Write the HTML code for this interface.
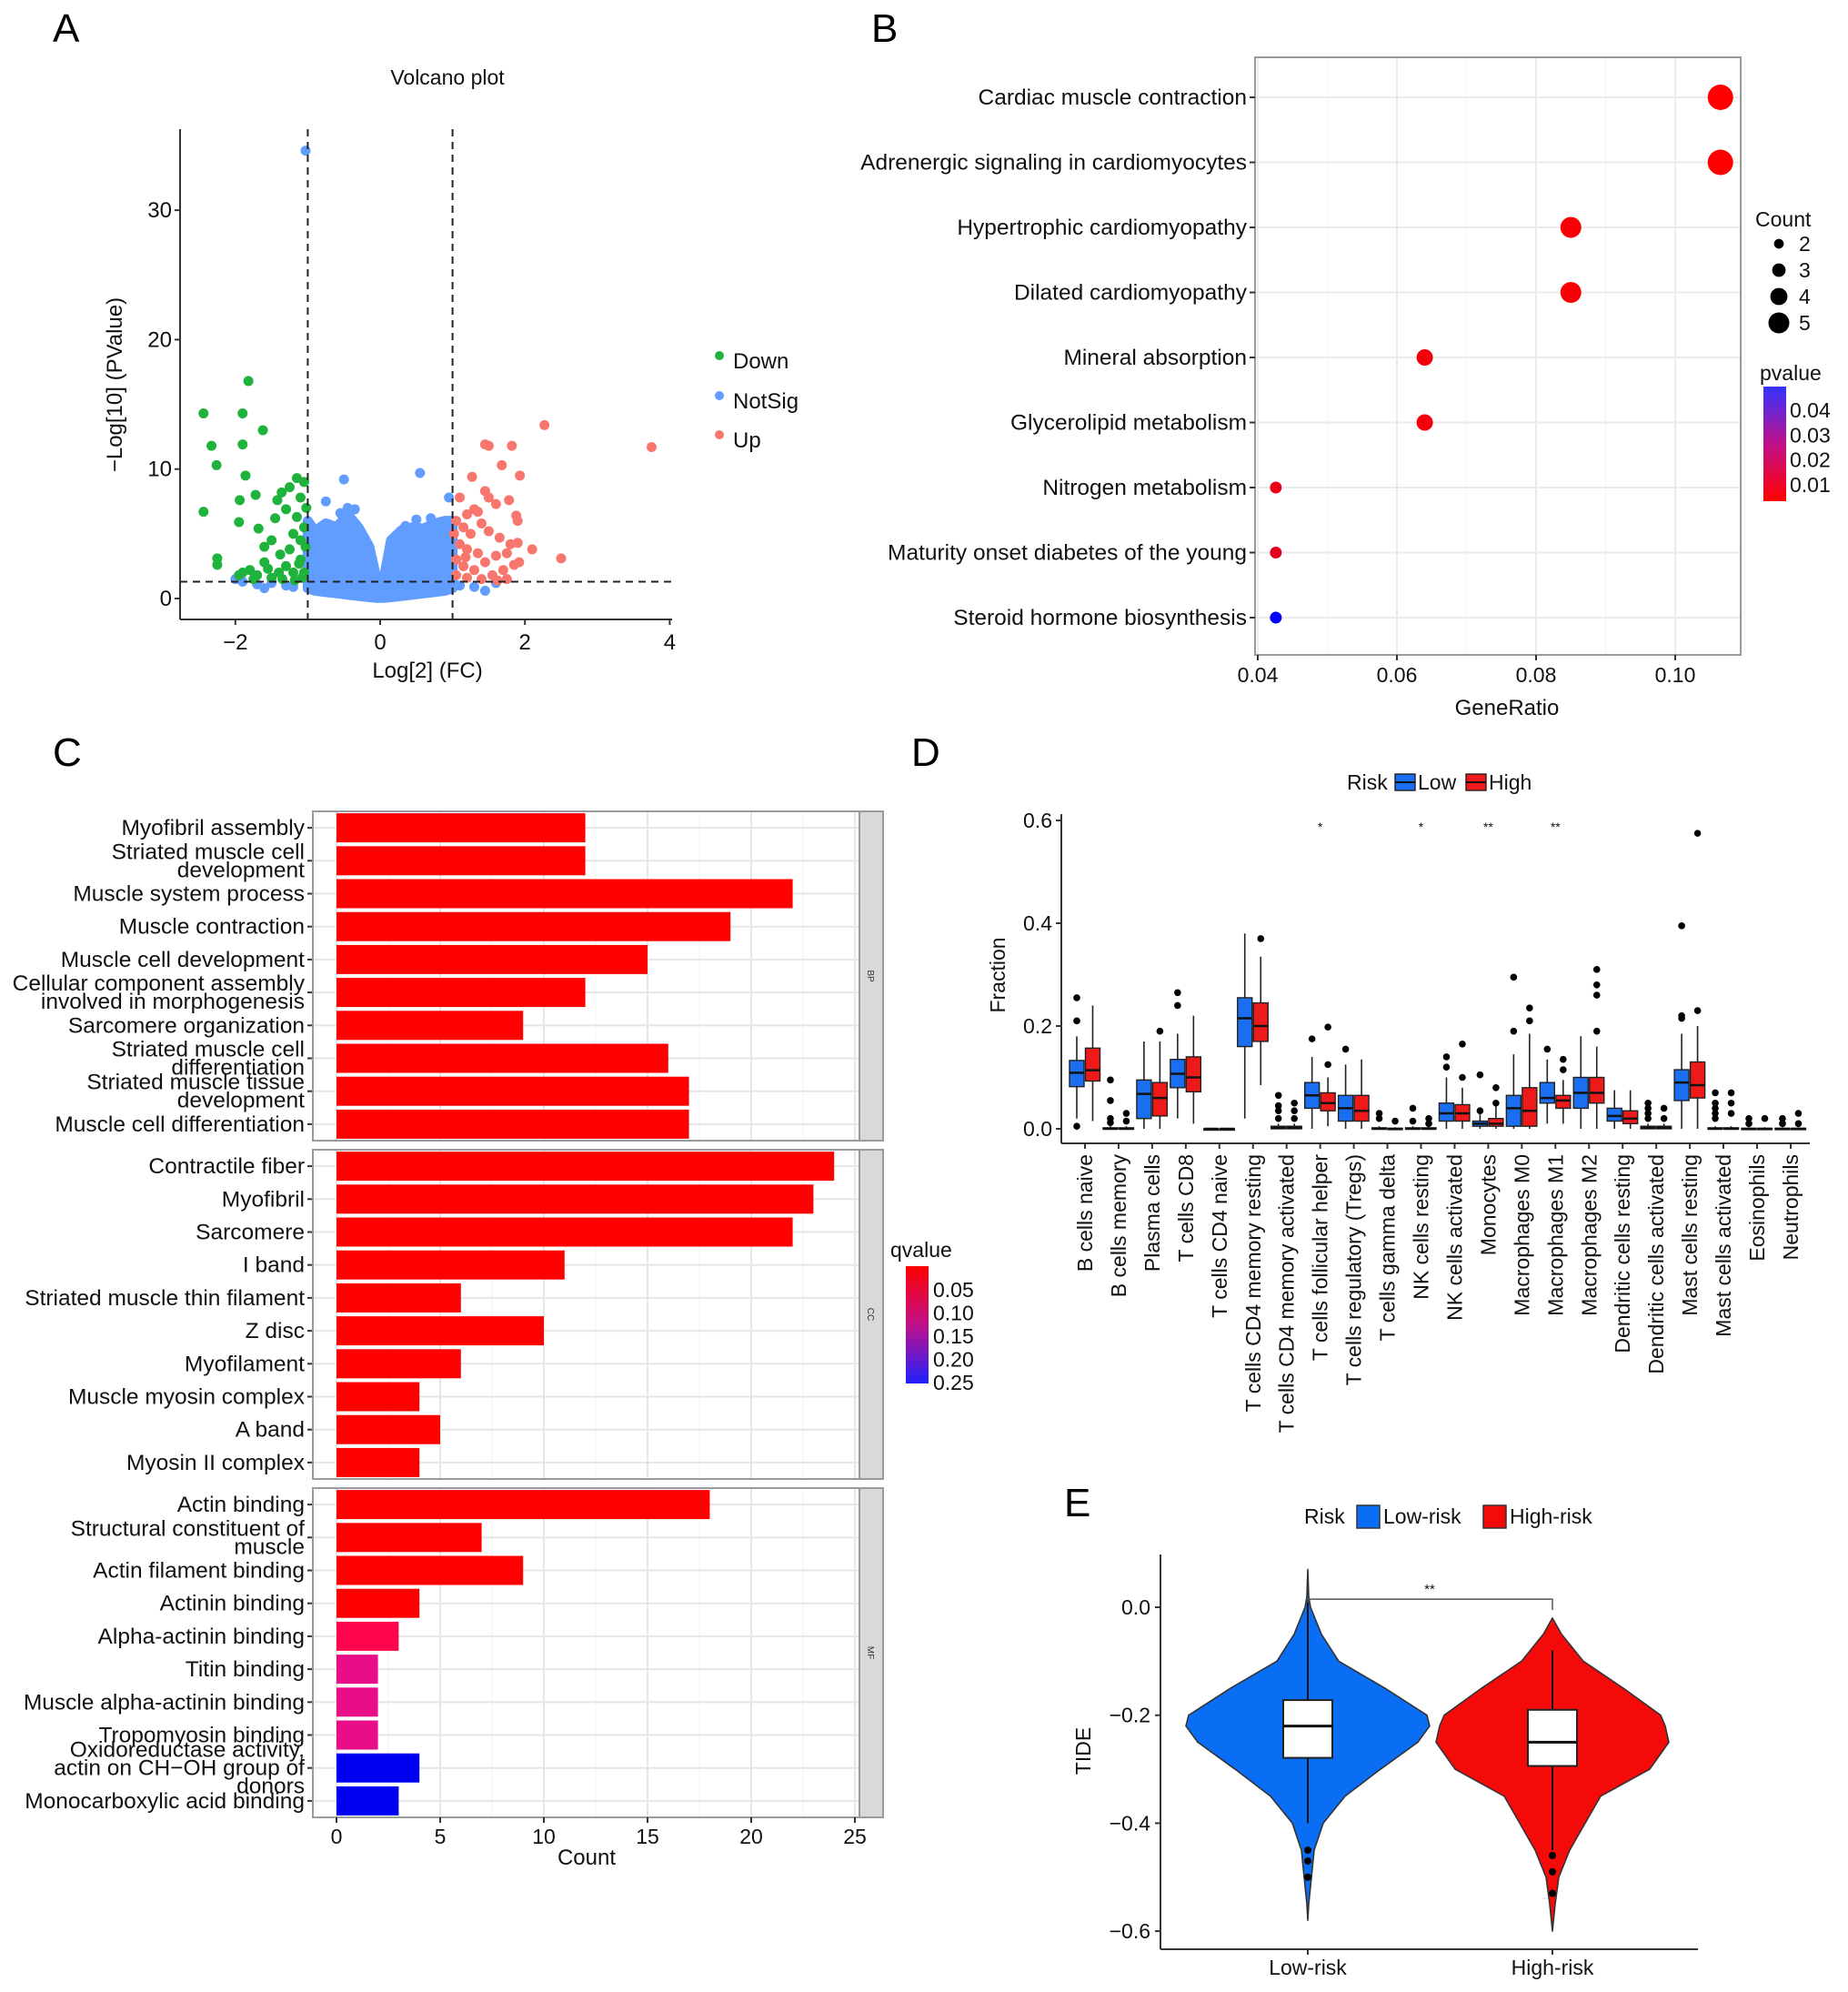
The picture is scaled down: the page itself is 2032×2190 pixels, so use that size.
<!DOCTYPE html>
<html><head><meta charset="utf-8"><style>
html,body{margin:0;padding:0;background:#fff}
svg{display:block;font-family:"Liberation Sans",sans-serif}
</style></head><body>
<svg id="fig" xmlns="http://www.w3.org/2000/svg" width="2032" height="2190" viewBox="0 0 2032 2190">
<text x="58" y="46" font-size="44">A</text>
<text x="958" y="46" font-size="44">B</text>
<text x="58" y="842" font-size="44">C</text>
<text x="1002" y="842" font-size="44">D</text>
<text x="1170" y="1667" font-size="44">E</text>
</svg>
<script>
var NS="http://www.w3.org/2000/svg";
var svg=document.getElementById('fig');
function mk(tag,a,parent){var e=document.createElementNS(NS,tag);for(var k in a)e.setAttribute(k,a[k]);(parent||svg).appendChild(e);return e;}
function tx(x,y,s,size,anchor,extra){var a={x:x,y:y,'font-size':size,'text-anchor':anchor||'start',fill:'#111'};if(extra)for(var k in extra)a[k]=extra[k];var e=mk('text',a);e.textContent=s;return e;}

/* ---------------- A: Volcano data ---------------- */
var downX=[-2.44,-1.82,-1.9,-2.33,-1.9,-1.62,-2.26,-1.86,-2.44,-1.94,-1.95,-1.68,-1.72,-1.42,-1.36,-1.25,-1.15,-1.05,-1.1,-1.3,-1.45,-2.25,-2.25,-1.9,-1.8,-1.6,-1.5,-1.38,-1.2,-1.1,-1.05,-1.6,-1.7,-1.3,-1.2,-1.1,-1.05,-1.4,-1.5,-1.15,-1.02,-1.25,-1.08,-1.95,-1.75,-1.35,-1.18,-1.55,-1.03,-1.12];
var downY=[14.3,16.8,14.3,11.8,11.9,13,10.3,9.5,6.7,7.6,5.9,5.4,8,7.6,8.2,8.6,9.3,9,7.8,6.9,6.2,3.1,2.6,2,2.2,4,4.5,3.4,5,4.5,5.5,2.8,1.8,2.5,2,3,2,2,1.6,6.3,7,3.8,1.6,1.8,1.5,1.5,1.4,2.3,4,2.7];
var upX=[2.27,3.75,1.5,1.82,1.45,1.68,1.93,1.27,1.1,1.45,1.5,1.6,1.78,1.3,1.2,1.35,1.05,1.15,1.4,1.25,1.88,1.9,1.5,1.65,1.8,1.9,2.1,2.5,1.75,1.6,1.45,1.35,1.2,1.1,1.05,1.15,1.3,1.55,1.7,1.85,1.92,1.05,1.2,1.4,1.62,1.75,1.02,1.18];
var upY=[13.4,11.7,11.8,11.8,11.9,10.3,9.5,9.4,7.8,8.3,7.8,7.3,7.6,6.9,6.5,6.7,6,5.5,5.8,5,6.4,6,5.2,4.7,4.2,4.3,3.8,3.1,3.5,3.3,2.8,3.5,3.8,4.2,3,2.5,2.2,1.8,2.2,2.6,2.8,1.8,1.6,1.5,1.4,1.5,5,3.2];
var nsX=[-1.03,-0.75,-0.5,0.55,-0.45,-0.4,0.95,-1.5,-1.7,-1.3,1.3,1.45,1.6,-1.9,-2.0,-1.6,-1.2,1.1,-0.55,-0.35,0.35,0.5,0.7];
var nsY=[34.6,7.5,9.2,9.7,7,6.8,7.8,1.2,1.1,1.0,0.9,0.6,1.2,1.3,1.5,0.8,0.9,1.0,6.6,6.9,5.6,6.1,6.2];
var cloudX=[-1,-0.9,-0.75,-0.6,-0.45,-0.3,-0.15,-0.05,0,0.05,0.15,0.3,0.45,0.6,0.75,0.9,1];
var cloudTop=[6,5.2,5.8,5.5,6.5,5.5,4,1.5,0.5,1.5,4.5,5.3,5.5,5.4,5.8,6,6];
var cloudBot=[0.8,0.6,0.5,0.4,0.3,0.2,0.1,0.05,0.05,0.05,0.1,0.2,0.3,0.4,0.5,0.6,0.8];
var vXTicks=[-2,0,2,4], vYTicks=[0,10,20,30];
function vx(v){return 418+v*79.6;}
function vy(v){return 658-v*14.23;}

var ga=mk('g',{});


var t=tx(492,93,'Volcano plot',23,'middle');


var pts=[];
for(var i=0;i<cloudX.length;i++)pts.push(vx(cloudX[i])+','+vy(cloudTop[i]));
for(var i=cloudX.length-1;i>=0;i--)pts.push(vx(cloudX[i])+','+vy(cloudBot[i]));
var cl=mk('polygon',{points:pts.join(' '),fill:'#619cff',stroke:'#619cff','stroke-width':11,'stroke-linejoin':'round'},ga);


function dots(X,Y,col,name){for(var i=0;i<X.length;i++){var c=mk('circle',{cx:vx(X[i]),cy:vy(Y[i]),r:5.5,fill:col},ga);

}}
dots(nsX,nsY,'#619cff','notsig-point');
dots(downX,downY,'#1fb23c','down-point');
dots(upX,upY,'#f8766d','up-point');
[-1,1].forEach(function(v){var l=mk('line',{x1:vx(v),x2:vx(v),y1:142,y2:681,stroke:'#222','stroke-width':2,'stroke-dasharray':'8,6'},ga);

});
var hl=mk('line',{x1:198,x2:741,y1:vy(1.3),y2:vy(1.3),stroke:'#222','stroke-width':2,'stroke-dasharray':'8,6'},ga);


mk('line',{x1:198,x2:198,y1:142,y2:681,stroke:'#333','stroke-width':2},ga);
mk('line',{x1:198,x2:739,y1:681,y2:681,stroke:'#333','stroke-width':2},ga);
vYTicks.forEach(function(v){mk('line',{x1:192,x2:198,y1:vy(v),y2:vy(v),stroke:'#333','stroke-width':2},ga);
var e=tx(189,vy(v)+8,String(v).replace('-','\u2212'),24,'end');

});
vXTicks.forEach(function(v){mk('line',{x1:vx(v),x2:vx(v),y1:681,y2:687,stroke:'#333','stroke-width':2},ga);
var e=tx(vx(v),714,String(v).replace('-','\u2212'),24,'middle');

});
t=tx(470,745,'Log[2] (FC)',24,'middle');


t=tx(0,0,'\u2212Log[10] (PValue)',24,'middle',{transform:'translate(134,423) rotate(-90)'});


var legA=[['Down','#1fb23c',397],['NotSig','#619cff',441],['Up','#f8766d',484]];
legA.forEach(function(l){mk('circle',{cx:791,cy:l[2]-6,r:5,fill:l[1]});
var e=tx(806,l[2]+8,l[0],24,'start');

});

/* ---------------- B: KEGG dot plot ---------------- */
var keggTerms=['Cardiac muscle contraction','Adrenergic signaling in cardiomyocytes','Hypertrophic cardiomyopathy','Dilated cardiomyopathy','Mineral absorption','Glycerolipid metabolism','Nitrogen metabolism','Maturity onset diabetes of the young','Steroid hormone biosynthesis'];
var keggRatio=[0.1065,0.1065,0.085,0.085,0.064,0.064,0.0426,0.0426,0.0426];
var keggCount=[5,5,4,4,3,3,2,2,2];
var keggP=[0.002,0.002,0.003,0.003,0.004,0.004,0.006,0.007,0.046];
var keggTicks=[0.04,0.06,0.08,0.10];
function bx(v){return 1383+(v-0.04)/0.02*153;}
function by(i){return 107+i*71.5;}
function pcol(p){var f=Math.max(0,Math.min(1,(p-0.002)/(0.046-0.002)));return 'rgb('+Math.round(255*(1-f))+',0,'+Math.round(255*f)+')';}
mk('rect',{x:1380,y:63,width:534,height:657,fill:'#fff',stroke:'#9a9a9a','stroke-width':2});
for(var v=0.04;v<0.111;v+=0.01){mk('line',{x1:bx(v),x2:bx(v),y1:64,y2:719,stroke:Math.round(v*100)%2==0?'#ebebeb':'#f4f4f4','stroke-width':Math.round(v*100)%2==0?2:1});}
keggTerms.forEach(function(s,i){mk('line',{x1:1381,x2:1913,y1:by(i),y2:by(i),stroke:'#ebebeb','stroke-width':2});
mk('line',{x1:1374,x2:1380,y1:by(i),y2:by(i),stroke:'#333','stroke-width':2});
var e=tx(1371,by(i)+8,s,24.5,'end');


var c=mk('circle',{cx:bx(keggRatio[i]),cy:by(i),r:6.5+(keggCount[i]-2)*2.5,fill:pcol(keggP[i])});

});
keggTicks.forEach(function(v){mk('line',{x1:bx(v),x2:bx(v),y1:720,y2:726,stroke:'#333','stroke-width':2});
var e=tx(bx(v),750,v.toFixed(2),23,'middle');

});
t=tx(1657,786,'GeneRatio',24,'middle');


t=tx(1930,249,'Count',23,'start');


[2,3,4,5].forEach(function(c,i){mk('circle',{cx:1956,cy:268+i*29,r:(6.5+(c-2)*2.5)*0.82,fill:'#000'});
var e=tx(1978,276+i*29,String(c),23,'start');

});
t=tx(1935,418,'pvalue',23,'start');


var dfs=mk('defs',{});
var lg=mk('linearGradient',{id:'gp',x1:0,y1:0,x2:0,y2:1},dfs);
mk('stop',{offset:0,'stop-color':'#3333ff'},lg);mk('stop',{offset:0.5,'stop-color':'#c0108a'},lg);mk('stop',{offset:1,'stop-color':'#ff0000'},lg);
var lg2=mk('linearGradient',{id:'gq',x1:0,y1:0,x2:0,y2:1},dfs);
mk('stop',{offset:0,'stop-color':'#ff0000'},lg2);mk('stop',{offset:0.5,'stop-color':'#c0108a'},lg2);mk('stop',{offset:1,'stop-color':'#2020ff'},lg2);
t=mk('rect',{x:1939,y:425,width:25,height:126,fill:'url(#gp)'});


['0.04','0.03','0.02','0.01'].forEach(function(s,i){var e=tx(1968,459+i*27.3,s,23,'start');

});

/* ---------------- C: GO bar chart ---------------- */
var goBP=['Myofibril assembly','Striated muscle cell|development','Muscle system process','Muscle contraction','Muscle cell development','Cellular component assembly|involved in morphogenesis','Sarcomere organization','Striated muscle cell|differentiation','Striated muscle tissue|development','Muscle cell differentiation'];
var goBPCount=[12,12,22,19,15,12,9,16,17,17];
var goBPQ=[0.01,0.01,0.01,0.01,0.01,0.01,0.01,0.01,0.01,0.01];
var goCC=['Contractile fiber','Myofibril','Sarcomere','I band','Striated muscle thin filament','Z disc','Myofilament','Muscle myosin complex','A band','Myosin II complex'];
var goCCCount=[24,23,22,11,6,10,6,4,5,4];
var goCCQ=[0.01,0.01,0.01,0.01,0.01,0.01,0.01,0.01,0.01,0.01];
var goMF=['Actin binding','Structural constituent of|muscle','Actin filament binding','Actinin binding','Alpha-actinin binding','Titin binding','Muscle alpha-actinin binding','Tropomyosin binding','Oxidoreductase activity,|actin on CH\u2212OH group of|donors','Monocarboxylic acid binding'];
var goMFCount=[18,7,9,4,3,2,2,2,4,3];
var goMFQ=[0.01,0.01,0.01,0.01,0.045,0.10,0.10,0.10,0.27,0.27];
var goTicks=[0,5,10,15,20,25];
function cx(v){return 370+v*22.8;}
function qcol(q){var f=Math.max(0,Math.min(1,(q-0.02)/(0.27-0.02)));var r=Math.round(255*(1-f*f*0.9)-(f>0.9?230*(f-0.9)/0.1:0)),b=Math.round(240*Math.sqrt(f)),g=Math.round(22*(1-Math.abs(2*f-1)));return 'rgb('+Math.max(0,r)+','+g+','+b+')';}
var facets=[['BP',goBP,goBPCount,goBPQ,892,1254],['CC',goCC,goCCCount,goCCQ,1264,1626],['MF',goMF,goMFCount,goMFQ,1636,1998]];
facets.forEach(function(f){
 var top=f[4],bot=f[5],n=f[1].length,step=(bot-top)/n;
 var g=mk('g',{});
 
 
 mk('rect',{x:344,y:top,width:601,height:bot-top,fill:'#fff'},g);
 for(var v=0;v<=25;v+=2.5){mk('line',{x1:cx(v),x2:cx(v),y1:top,y2:bot,stroke:v%5==0?'#e6e6e6':'#f3f3f3','stroke-width':v%5==0?2:1},g);}
 for(var i=0;i<n;i++){var yy=top+step*(i+0.5);
  mk('line',{x1:344,x2:945,y1:yy,y2:yy,stroke:'#e6e6e6','stroke-width':2},g);
  var b=mk('rect',{x:cx(0),y:yy-16,width:cx(f[2][i])-cx(0),height:32,fill:qcol(f[3][i])},g);
  
  
  mk('line',{x1:338,x2:344,y1:yy,y2:yy,stroke:'#333','stroke-width':2},g);
  var lines=f[1][i].split('|');
  lines.forEach(function(s,j){var e=tx(335,yy+8+(j-(lines.length-1)/2)*20,s,24.5,'end');
  
  });
 }
 mk('rect',{x:344,y:top,width:601,height:bot-top,fill:'none',stroke:'#9a9a9a','stroke-width':2},g);
 mk('rect',{x:945,y:top,width:26,height:bot-top,fill:'#d9d9d9',stroke:'#9a9a9a','stroke-width':2},g);
 var s=tx(0,0,f[0],10,'middle',{transform:'translate(954,'+((top+bot)/2)+') rotate(90)',fill:'#333'});
 
 
});
goTicks.forEach(function(v){mk('line',{x1:cx(v),x2:cx(v),y1:1998,y2:2004,stroke:'#333','stroke-width':2});
var e=tx(cx(v),2027,String(v),23,'middle');

});
t=tx(645,2050,'Count',24,'middle');


t=tx(979,1382,'qvalue',23,'start');


t=mk('rect',{x:996,y:1392,width:25,height:129,fill:'url(#gq)'});


['0.05','0.10','0.15','0.20','0.25'].forEach(function(s,i){var e=tx(1026,1426+i*25.5,s,23,'start');

});

/* ---------------- D: immune boxplots ---------------- */
var cells=['B cells naive','B cells memory','Plasma cells','T cells CD8','T cells CD4 naive','T cells CD4 memory resting','T cells CD4 memory activated','T cells follicular helper','T cells regulatory (Tregs)','T cells gamma delta','NK cells resting','NK cells activated','Monocytes','Macrophages M0','Macrophages M1','Macrophages M2','Dendritic cells resting','Dendritic cells activated','Mast cells resting','Mast cells activated','Eosinophils','Neutrophils'];
var lowStats=[[0.02,0.082,0.109,0.133,0.18],[0,0,0,0.002,0.005],[0,0.02,0.068,0.095,0.17],[0.02,0.08,0.107,0.135,0.185],[0,0,0,0,0],[0.02,0.16,0.215,0.255,0.38],[0,0,0.002,0.005,0.01],[0,0.04,0.065,0.09,0.14],[0,0.015,0.04,0.065,0.125],[0,0,0,0.002,0.005],[0,0,0,0.002,0.005],[0,0.015,0.03,0.05,0.1],[0,0.005,0.01,0.015,0.03],[0,0.005,0.04,0.065,0.145],[0.01,0.05,0.06,0.09,0.135],[0,0.04,0.07,0.1,0.18],[0,0.015,0.025,0.04,0.075],[0,0,0.002,0.005,0.01],[0,0.055,0.09,0.115,0.185],[0,0,0,0.002,0.005],[0,0,0,0.001,0.003],[0,0,0,0.001,0.003]];
var highStats=[[0.015,0.093,0.114,0.157,0.24],[0,0,0,0.002,0.005],[0,0.025,0.06,0.09,0.17],[0.01,0.072,0.1,0.14,0.22],[0,0,0,0,0],[0.085,0.17,0.2,0.245,0.335],[0,0,0.002,0.005,0.01],[0.005,0.035,0.05,0.07,0.1],[0,0.015,0.035,0.065,0.135],[0,0,0,0.001,0.003],[0,0,0,0.002,0.005],[0,0.015,0.03,0.047,0.08],[0,0.005,0.01,0.02,0.045],[0,0.005,0.035,0.08,0.185],[0.01,0.04,0.055,0.065,0.095],[0,0.05,0.07,0.1,0.16],[0,0.01,0.02,0.035,0.075],[0,0,0.002,0.005,0.01],[0,0.06,0.085,0.13,0.2],[0,0,0,0.002,0.005],[0,0,0,0.001,0.003],[0,0,0,0.001,0.003]];
var lowOut=[[0.21,0.255,0.005],[0.055,0.095,0.02,0.012],[],[0.24,0.265],[],[],[0.02,0.035,0.045,0.065],[0.175],[0.155],[0.02,0.03],[0.015,0.04],[0.12,0.14],[0.035,0.105],[0.19,0.295],[0.155],[],[],[0.02,0.03,0.04,0.05],[0.215,0.22,0.395],[0.02,0.03,0.04,0.05,0.07],[0.01,0.02],[0.01,0.02]];
var highOut=[[],[0.015,0.03],[0.19],[],[],[0.37],[0.02,0.035,0.05],[0.125,0.198],[],[0.015],[0.01,0.02],[0.1,0.165],[0.05,0.08],[0.21,0.235],[0.115,0.135],[0.19,0.26,0.28,0.31],[],[0.02,0.04],[0.23,0.575],[0.03,0.05,0.07],[0.02],[0.01,0.03]];
var sigStars=['','','','','','','','*','','','*','','**','','**','','','','','','',''];
var dTicks=[0,0.2,0.4,0.6];
function dy(v){return 1241-v*565;}
function dxc(i){return 1193+i*36.95;}
var gd=mk('g',{});


function box(cxp,s,outs,col,name){
 var w=16;
 mk('line',{x1:cxp,x2:cxp,y1:dy(s[0]),y2:dy(s[4]),stroke:'#222','stroke-width':1.6},gd);
 var r=mk('rect',{x:cxp-w/2,y:dy(s[3]),width:w,height:Math.max(1.5,dy(s[1])-dy(s[3])),fill:col,stroke:'#222','stroke-width':1.4},gd);
 
 
 mk('line',{x1:cxp-w/2,x2:cxp+w/2,y1:dy(s[2]),y2:dy(s[2]),stroke:'#111','stroke-width':2.5},gd);
 outs.forEach(function(o){var c=mk('circle',{cx:cxp,cy:dy(o),r:3.8,fill:'#000'},gd);
 
 });
}
cells.forEach(function(c,i){
 box(dxc(i)-9,lowStats[i],lowOut[i],'#1a6ef0','box-low-risk');
 box(dxc(i)+8.5,highStats[i],highOut[i],'#ee1a1a','box-high-risk');
 mk('line',{x1:dxc(i),x2:dxc(i),y1:1257,y2:1263,stroke:'#333','stroke-width':2},gd);
 var e=tx(0,0,c,23,'end',{transform:'translate('+(dxc(i)+8)+',1269) rotate(-90)'});
 
 
 if(sigStars[i]){var s=tx(dxc(i),914,sigStars[i],14,'middle');
 
 }
});
mk('line',{x1:1167,x2:1167,y1:895,y2:1257,stroke:'#333','stroke-width':2},gd);
mk('line',{x1:1167,x2:1990,y1:1257,y2:1257,stroke:'#333','stroke-width':2},gd);
dTicks.forEach(function(v){mk('line',{x1:1161,x2:1167,y1:dy(v),y2:dy(v),stroke:'#333','stroke-width':2},gd);
var e=tx(1157,dy(v)+8,v.toFixed(1),23,'end');

});
t=tx(0,0,'Fraction',23,'middle',{transform:'translate(1105,1072) rotate(-90)'});


t=tx(1481,868,'Risk',23,'start');


[['Low','#1a6ef0',1534],['High','#ee1a1a',1612]].forEach(function(l){var r=mk('rect',{x:l[2],y:851,width:22,height:18,fill:l[1],stroke:'#222','stroke-width':1.4});
mk('line',{x1:l[2],x2:l[2]+22,y1:860,y2:860,stroke:'#111','stroke-width':2});
var e=tx(l[2]+25,868,l[0],23,'start');

});

/* ---------------- E: TIDE violin ---------------- */
var groups=['Low-risk','High-risk'];
var violinY=[0.07,0.02,0,-0.05,-0.1,-0.15,-0.2,-0.22,-0.25,-0.3,-0.35,-0.4,-0.45,-0.5,-0.55,-0.6];
var violinLowW=[0,1,3,15,34,85,131,134,121,80,41,17,7,4,1,0];
var violinHighW=[0,0,0,10,34,78,119,124,128,107,53,36,19,7,3,0];
var boxLow=[0.015,-0.172,-0.22,-0.279,-0.40];
var boxHigh=[-0.08,-0.19,-0.25,-0.294,-0.45];
var outLow=[-0.45,-0.47,-0.50];
var outHigh=[-0.46,-0.49,-0.53];
var eTicks=[0,-0.2,-0.4,-0.6];
function ey(v){return 1767-v*593.5;}
var eCenters=[1438,1707];
var ge=mk('g',{});


function violin(cxp,W,col,name,topY,botY){
 var L=[],R=[];
 for(var i=0;i<violinY.length;i++){var yv=violinY[i];if(yv>topY)yv=topY;if(yv<botY)yv=botY;L.push((cxp-W[i])+','+ey(yv));R.unshift((cxp+W[i])+','+ey(yv));}
 var p=mk('polygon',{points:L.concat(R).join(' '),fill:col,stroke:'#333','stroke-width':1.6,'stroke-linejoin':'round'},ge);
 
 
}
violin(eCenters[0],violinLowW,'#0a6ef5','violin-low-risk',0.07,-0.58);
violin(eCenters[1],violinHighW,'#f50a0a','violin-high-risk',-0.02,-0.6);
function ebox(cxp,s,outs,name){
 mk('line',{x1:cxp,x2:cxp,y1:ey(s[0]),y2:ey(s[4]),stroke:'#111','stroke-width':2},ge);
 var r=mk('rect',{x:cxp-27,y:ey(s[1]),width:54,height:ey(s[3])-ey(s[1]),fill:'#fff',stroke:'#222','stroke-width':2},ge);
 
 
 mk('line',{x1:cxp-27,x2:cxp+27,y1:ey(s[2]),y2:ey(s[2]),stroke:'#111','stroke-width':3},ge);
 outs.forEach(function(o){var c=mk('circle',{cx:cxp,cy:ey(o),r:4,fill:'#000'},ge);
 
 });
}
ebox(eCenters[0],boxLow,outLow,'tide-box-low');
ebox(eCenters[1],boxHigh,outHigh,'tide-box-high');
var br=mk('polyline',{points:eCenters[0]+','+(ey(0.015)+4)+' '+eCenters[0]+','+ey(0.015)+' '+eCenters[1]+','+ey(0.015)+' '+eCenters[1]+','+(ey(0.015)+12),fill:'none',stroke:'#555','stroke-width':1.5},ge);


t=tx(1572,1752,'**',15,'middle');


mk('line',{x1:1276,x2:1276,y1:1709,y2:2143,stroke:'#333','stroke-width':2},ge);
mk('line',{x1:1276,x2:1867,y1:2143,y2:2143,stroke:'#333','stroke-width':2},ge);
eTicks.forEach(function(v){mk('line',{x1:1270,x2:1276,y1:ey(v),y2:ey(v),stroke:'#333','stroke-width':2},ge);
var e=tx(1265,ey(v)+8,v.toFixed(1).replace('-','\u2212'),23,'end');

});
groups.forEach(function(g,i){mk('line',{x1:eCenters[i],x2:eCenters[i],y1:2143,y2:2149,stroke:'#333','stroke-width':2},ge);
var e=tx(eCenters[i],2171,g,23,'middle');

});
t=tx(0,0,'TIDE',23,'middle',{transform:'translate(1199,1925) rotate(-90)'});


t=tx(1434,1675,'Risk',23,'start');


[['Low-risk','#0a6ef5',1492],['High-risk','#f50a0a',1631]].forEach(function(l){mk('rect',{x:l[2],y:1655,width:25,height:25,fill:l[1],stroke:'#333','stroke-width':1.5});
var e=tx(l[2]+29,1675,l[0],23,'start');

});
</script>
</body></html>
